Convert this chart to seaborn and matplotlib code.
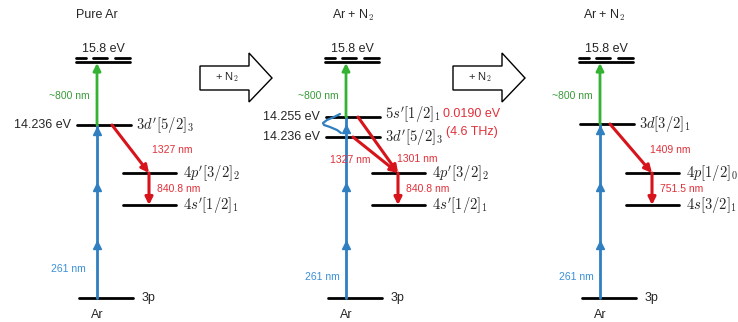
import numpy as np
import pandas as pd
import seaborn as sns
import matplotlib.pyplot as plt
from matplotlib.patches import Polygon

# ---------------------------------------------------------------------------
# DATA  (schematic level heights, y grows downwards)
# ---------------------------------------------------------------------------
titles = ["Pure Ar", "Ar + N$_2$", "Ar + N$_2$"]
ion_label = "15.8 eV"
ground_label = "3p"
atom_label = "Ar"
pump_label = "261 nm"
probe_label = "~800 nm"
step_label = "+ N$_2$"

ion_y = 60
ground_y = 298
upper_y = [[125], [117, 137], [124]]
upper_terms = [[r"$3d'[5/2]_3$"],
               [r"$5s'[1/2]_1$", r"$3d'[5/2]_3$"],
               [r"$3d[3/2]_1$"]]
upper_ev = [["14.236 eV"], ["14.255 eV", "14.236 eV"], [""]]
lower_y = [173, 205]
lower_terms = [[r"$4p'[3/2]_2$", r"$4s'[1/2]_1$"],
               [r"$4p'[3/2]_2$", r"$4s'[1/2]_1$"],
               [r"$4p[1/2]_0$", r"$4s[3/2]_1$"]]
ir_lines = [["1327 nm"], ["1327 nm", "1301 nm"], ["1409 nm"]]
vis_lines = ["840.8 nm", "840.8 nm", "751.5 nm"]
split_text = ["0.0190 eV", "(4.6 THz)"]
# sketch of the laser spectrum in panel 2 (offset left of pump line vs height)
spec_y = [114, 117, 120, 123, 125, 127, 130, 133]
spec_dx = [3, 9, 16, 20, 19, 13, 6, 2]

# ---------------------------------------------------------------------------
# LAYOUT / STYLE
# ---------------------------------------------------------------------------
axis_x = [97, 346, 600]
title_x = [97, 353, 604]
ir_start = [[15], [12, 7], [10]]
ir_text = [[(55, 150)], [(-16, 160), (51, 159)], [(50, 150)]]
pump_text = [(-11, 269), (-6, 277), (-6, 277)]
arrow_left = [200, 453]

RED, RED_T = "#d7141c", "#e0303a"
BLUE, BLUE_T = "#2f7fc1", "#3a8fd8"
GREEN, GREEN_T = "#34b234", "#3a9b3a"

sns.set_style("white")
plt.rcParams['font.family'] = ['Liberation Sans', 'DejaVu Sans']
plt.rcParams['mathtext.fontset'] = 'cm'

fig = plt.figure(figsize=(7.38, 3.22), dpi=100)
ax = fig.add_axes([0, 0, 1, 1])

# ---- level lines (seaborn) ----
rows = []
seg = 0
for p, x0 in enumerate(axis_x):
    spans = [(x0 - 20, x0 + 34, y) for y in upper_y[p]]
    spans += [(x0 + 26, x0 + 79, y) for y in lower_y]
    spans += [(x0 - 18, x0 + 36, ground_y), (x0 - 21, x0 + 33, ion_y + 2)]
    for xa, xb, y in spans:
        rows += [dict(x=xa, y=y, seg=seg), dict(x=xb, y=y, seg=seg)]
        seg += 1
levels = pd.DataFrame(rows)
sns.lineplot(data=levels, x="x", y="y", units="seg", estimator=None,
             color="black", lw=2, ax=ax, legend=False)

ax.set_xlim(0, 738)
ax.set_ylim(322, 0)
ax.axis("off")

for p, x0 in enumerate(axis_x):
    # ionisation limit (dashed top line)
    for a, b in [(-21, -11), (-4, 10), (18, 33)]:
        ax.plot([x0 + a, x0 + b], [ion_y - 2, ion_y - 2], color="black", lw=2)
    ax.text(x0 + 6, ion_y - 11, ion_label, ha="center", va="center", fontsize=9)

    ax.text(title_x[p], 15, titles[p], ha="center", va="center", fontsize=9)
    ax.text(x0, 315, atom_label, ha="center", va="center", fontsize=9)
    ax.text(x0 + 45, ground_y, ground_label, ha="left", va="center", fontsize=9)

    top = upper_y[p][0]
    # pump (blue) with arrowheads
    ax.plot([x0, x0], [ground_y, top], color=BLUE, lw=2)
    head = upper_y[p][-1] + 6 if p != 1 else 129
    for yy in [245, 187, head]:
        ax.plot(x0, yy, marker="^", ms=6, color=BLUE, mec=BLUE)
    px, py = pump_text[p]
    ax.text(x0 + px, py, pump_label, ha="right", va="center", fontsize=7.5,
            color=BLUE_T)

    # probe (green)
    ax.annotate("", xy=(x0, ion_y + 3), xytext=(x0, top),
                arrowprops=dict(arrowstyle="-|>", color=GREEN, lw=2,
                                mutation_scale=11, shrinkA=0, shrinkB=0))
    ax.text(x0 - 7, 96, probe_label, ha="right", va="center", fontsize=7.5,
            color=GREEN_T)

    # upper state labels
    for y, term, ev in zip(upper_y[p], upper_terms[p], upper_ev[p]):
        dy = -3 if (p == 1 and y == upper_y[1][0]) else 0
        ax.text(x0 + 39, y + dy, term, ha="left", va="center", fontsize=10.5)
        if ev:
            ax.text(x0 - 26, y, ev, ha="right", va="center", fontsize=9)

    # lower state labels
    for y, term in zip(lower_y, lower_terms[p]):
        ax.text(x0 + 86, y, term, ha="left", va="center", fontsize=10.5)

    # IR emission (red diagonal arrows)
    for y, s, lab, (tx, ty) in zip(upper_y[p], ir_start[p], ir_lines[p], ir_text[p]):
        ax.annotate("", xy=(x0 + 52, lower_y[0]), xytext=(x0 + s, y),
                    arrowprops=dict(arrowstyle="-|>", color=RED, lw=2.2,
                                    mutation_scale=11, shrinkA=0, shrinkB=0))
        ax.text(x0 + tx, ty, lab, ha="left", va="center", fontsize=7.5,
                color=RED_T)

    # visible emission (red vertical arrow)
    ax.annotate("", xy=(x0 + 52, lower_y[1]), xytext=(x0 + 52, lower_y[0]),
                arrowprops=dict(arrowstyle="-|>", color=RED, lw=2.2,
                                mutation_scale=11, shrinkA=0, shrinkB=0))
    ax.text(x0 + 60, 189, vis_lines[p], ha="left", va="center", fontsize=7.5,
            color=RED_T)

# laser spectrum in panel 2
ax.plot(axis_x[1] - 3 - np.array(spec_dx), spec_y, color=BLUE, lw=1.6)

ax.text(443, 114, split_text[0], ha="left", va="center", fontsize=9, color=RED_T)
ax.text(446, 132, split_text[1], ha="left", va="center", fontsize=9, color=RED_T)

# "+ N2" block arrows
for L in arrow_left:
    pts = [(L, 66), (L + 49, 66), (L + 49, 53), (L + 72, 78),
           (L + 49, 102), (L + 49, 90), (L, 90)]
    ax.add_patch(Polygon(pts, closed=True, facecolor="white",
                         edgecolor="black", lw=1))
    ax.text(L + 27, 77, step_label, ha="center", va="center", fontsize=8)

fig.savefig("out.png", dpi=100)
